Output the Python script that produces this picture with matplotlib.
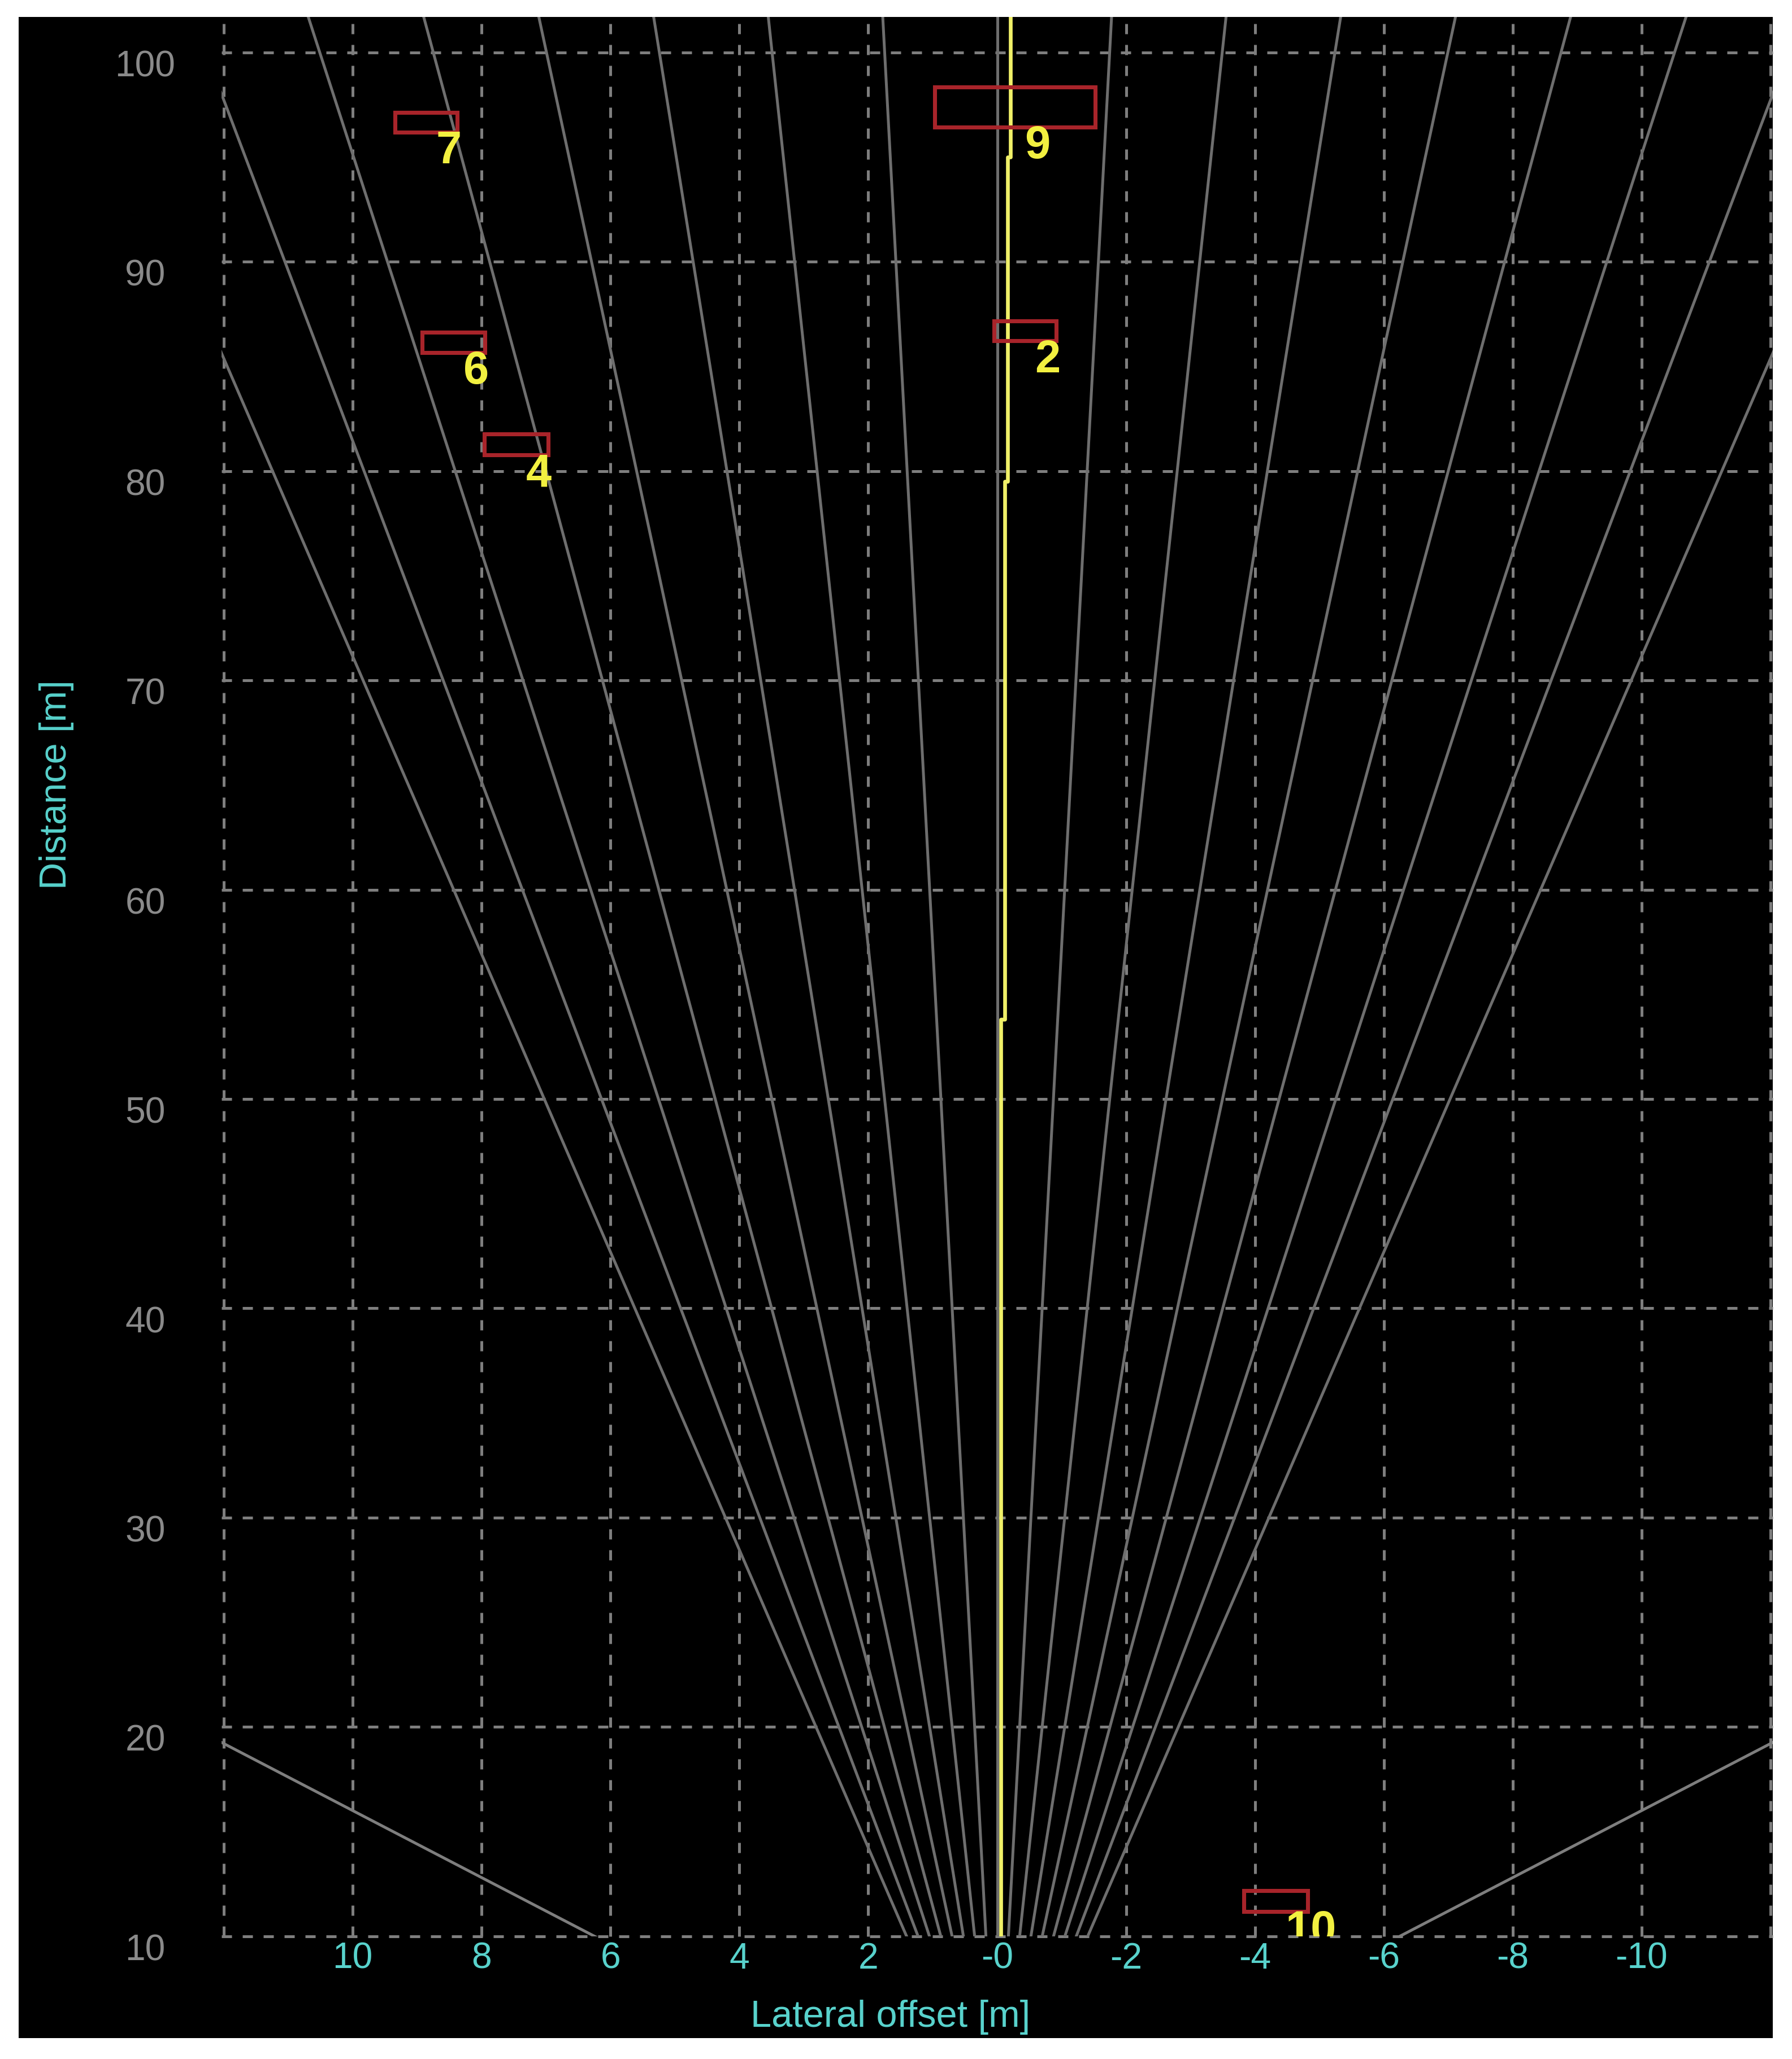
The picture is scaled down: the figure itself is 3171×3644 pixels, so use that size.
import matplotlib
matplotlib.use("Agg")
import matplotlib.pyplot as plt
import numpy as np
from matplotlib.patches import Rectangle

# Grid and tick values
y_ticks = [10, 20, 30, 40, 50, 60, 70, 80, 90, 100]
x_grid = [12, 10, 8, 6, 4, 2, 0, -2, -4, -6, -8, -10, -12]
x_ticks = [10, 8, 6, 4, 2, 0, -2, -4, -6, -8, -10]
x_tick_labels = ["10", "8", "6", "4", "2", "-0", "-2", "-4", "-6", "-8", "-10"]

# Beam fan from the sensor (degrees, positive = left)
fan_angles = [-8, -7, -6, -5, -4, -3, -2, -1, 0, 1, 2, 3, 4, 5, 6, 7, 8]
wide_angles = [32, -32]

# Predicted path (yellow)
path_x = [-0.06, -0.12, -0.165, -0.21, -0.21]
path_y = [10, 53.8, 79.5, 95.0, 101.7]

# Detected objects (boxes)
obj_ids = [7, 6, 4, 9, 2, 10]
obj_x_min = [8.38, 7.95, 6.97, -1.52, -0.92, -4.82]
obj_x_max = [9.34, 8.92, 7.96, 0.97, 0.05, -3.83]
obj_y_min = [96.2, 85.67, 80.78, 96.43, 86.22, 11.17]
obj_y_max = [97.13, 86.64, 81.77, 98.34, 87.18, 12.19]

# Colours
grid_col = "#7e7e7e"
fan_col = "#6e6e6e"
cyan = "#58d2cc"
box_col = "#a8242a"
label_col = "#f2f040"
path_col = "#f0f068"

plt.rcParams["font.family"] = ["Liberation Sans", "DejaVu Sans"]

fig = plt.figure(figsize=(3171 / 300, 3644 / 300), dpi=300, facecolor="white")
fig.add_artist(Rectangle((0.0104, 0.0102), 0.9789, 0.9816, transform=fig.transFigure,
                         facecolor="black", edgecolor="none", zorder=-1))

ax = fig.add_axes([0.12362, 0.05963, 0.86566, 0.93214])
ax.set_facecolor("black")
ax.set_xlim(12.035, -12.035)
ax.set_ylim(10, 101.7)
for s in ax.spines.values():
    s.set_visible(False)

# Dashed grid
dash = (0, (3.6, 3.8))
for gx in x_grid:
    ax.axvline(gx, color=grid_col, lw=1.2, linestyle=dash, clip_on=False, zorder=1)
for gy in y_ticks:
    ax.axhline(gy, color=grid_col, lw=1.2, linestyle=dash, clip_on=False, zorder=1)

# Beam fan
for a in fan_angles:
    ax.plot([0, 200 * np.tan(np.radians(a))], [0, 200], color=fan_col, lw=1.2, zorder=2)
for a in wide_angles:
    ax.plot([0, 200 * np.tan(np.radians(a))], [0, 200], color=grid_col, lw=1.2, zorder=2)

# Path
ax.plot(path_x, path_y, color=path_col, lw=1.6, drawstyle="steps-pre", zorder=3)

# Objects
for oid, x0, x1, y0, y1 in zip(obj_ids, obj_x_min, obj_x_max, obj_y_min, obj_y_max):
    ax.add_patch(Rectangle((x0, y0), x1 - x0, y1 - y0, fill=False,
                           edgecolor=box_col, lw=1.7, zorder=4))
    xc = (x0 + x1) / 2
    ax.text(xc - 0.15, y0 + 0.1, str(oid), ha="left", va="top", color=label_col,
            fontsize=19.5, fontweight="bold", clip_on=True, zorder=5)

# Ticks
ax.set_xticks(x_ticks, x_tick_labels)
ax.tick_params(axis="x", length=0, pad=2.4, labelsize=15.4, labelcolor=cyan)
ax.set_yticks([])
for yv in y_ticks:
    ax.text(-0.04918, yv + 0.12, str(yv), transform=ax.get_yaxis_transform(),
            ha="center", va="top", color="#8a8a8a", fontsize=15.4)

fig.text(0.497, 0.0203, "Lateral offset [m]", ha="center", va="center",
         color=cyan, fontsize=16)
fig.text(0.0315, 0.6188, "Distance [m]", ha="center", va="center", rotation=90,
         color=cyan, fontsize=16)

fig.savefig("out.png", dpi=300, facecolor="white")
